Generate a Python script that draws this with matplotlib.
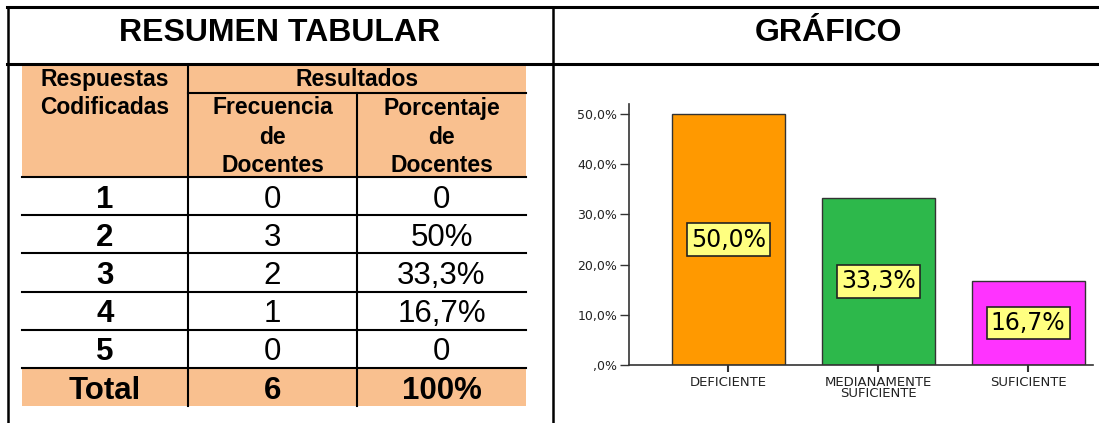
import matplotlib.pyplot as plt
from matplotlib.patches import Rectangle

# ---- data ----
codigos = ["1", "2", "3", "4", "5"]
frecuencias = [0, 3, 2, 1, 0]
porcentajes_tabla = ["0", "50%", "33,3%", "16,7%", "0"]
total_frecuencia = "6"
total_porcentaje = "100%"

categorias = ["DEFICIENTE", "MEDIANAMENTE\nSUFICIENTE", "SUFICIENTE"]
porcentajes = [50.0, 33.3, 16.7]
etiquetas_barras = ["50,0%", "33,3%", "16,7%"]
yticks = [0, 10, 20, 30, 40, 50]
ytick_labels = [",0%", "10,0%", "20,0%", "30,0%", "40,0%", "50,0%"]

colores = ["#FF9900", "#2DB84B", "#FF33FF"]
naranja = "#F9C08F"
amarillo = "#FFFF80"

W, H = 1099, 423
fig = plt.figure(figsize=(W / 100, H / 100), dpi=100)

# ---- frame + table drawn in pixel space ----
tb = fig.add_axes([0, 0, 1, 1])
tb.set_xlim(0, W)
tb.set_ylim(H, 0)
tb.axis("off")

arial = "Liberation Sans"

# outer frame
tb.plot([7, W], [7.5, 7.5], color="black", lw=2.2)
tb.plot([7, W], [64, 64], color="black", lw=2.2)
tb.plot([7.5, 7.5], [7, H], color="black", lw=1.8)
tb.plot([552.5, 552.5], [7, H], color="black", lw=1.8)

tb.text(280, 41, "RESUMEN TABULAR", family=arial, fontsize=23, fontweight="bold",
        ha="center", va="baseline")
tb.text(829, 41, "GRÁFICO", family=arial, fontsize=23, fontweight="bold",
        ha="center", va="baseline")

x0, x1, x2, x3 = 22, 188, 357, 526
head_top, head_bot = 66, 177
row_h = 38.2

# orange backgrounds
tb.add_patch(Rectangle((x0, head_top), x3 - x0, head_bot - head_top,
                       facecolor=naranja, edgecolor="none"))
n = len(codigos)
tot_top = head_bot + n * row_h
tb.add_patch(Rectangle((x0, tot_top), x3 - x0, row_h,
                       facecolor=naranja, edgecolor="none"))

# table lines
lw_t = 1.5
tb.plot([x1, x3], [93, 93], color="black", lw=lw_t)
for i in range(n + 1):
    y = head_bot + i * row_h
    tb.plot([x0, x3], [y, y], color="black", lw=lw_t)
tb.plot([x1, x1], [head_top, tot_top + row_h], color="black", lw=lw_t)
tb.plot([x2, x2], [93, tot_top + row_h], color="black", lw=lw_t)

# header texts
hk = dict(family=arial, fontsize=16.5, fontweight="bold", ha="center", va="baseline")
c1, c2, c3 = (x0 + x1) / 2, (x1 + x2) / 2, (x2 + x3) / 2
tb.text(c1, 86, "Respuestas", **hk)
tb.text(c1, 114.5, "Codificadas", **hk)
tb.text((x1 + x3) / 2, 86, "Resultados", **hk)
for y, (a, b) in zip([114.5, 143.5, 172], [("Frecuencia", "Porcentaje"),
                                          ("de", "de"),
                                          ("Docentes", "Docentes")]):
    tb.text(c2, y, a, **hk)
    tb.text(c3, y, b, **hk)

# body rows
fs = 22.5
for i, (cod, fr, pc) in enumerate(zip(codigos, frecuencias, porcentajes_tabla)):
    yb = head_bot + i * row_h + row_h / 2 + 11.5
    tb.text(c1, yb, cod, family=arial, fontsize=fs, fontweight="bold", ha="center", va="baseline")
    tb.text(c2, yb, str(fr), family=arial, fontsize=fs, ha="center", va="baseline")
    tb.text(c3, yb, pc, family=arial, fontsize=fs, ha="center", va="baseline")
yb = tot_top + row_h / 2 + 11.5
tb.text(c1, yb, "Total", family=arial, fontsize=fs, fontweight="bold", ha="center", va="baseline")
tb.text(c2, yb, total_frecuencia, family=arial, fontsize=fs, fontweight="bold", ha="center", va="baseline")
tb.text(c3, yb, total_porcentaje, family=arial, fontsize=fs, fontweight="bold", ha="center", va="baseline")

# ---- bar chart ----
ax = fig.add_axes([629 / W, (H - 365) / H, (1093 - 629) / W, (365 - 104) / H])
xs = list(range(len(categorias)))
bars = ax.bar(xs, porcentajes, width=0.753, color=colores, edgecolor="#333333", linewidth=1.0)
ax.set_xlim(-0.663, 2.433)
ax.set_ylim(0, 52)
ax.set_yticks(yticks)
ax.set_yticklabels(ytick_labels, family="DejaVu Sans", fontsize=9, color="#222222")
ax.set_xticks(xs)
ax.set_xticklabels(categorias, family="DejaVu Sans", fontsize=9.5, color="#222222",
                   linespacing=0.8, va="top")
ax.tick_params(axis="y", length=6.5, width=1.0, color="#333333", pad=2)
ax.tick_params(axis="x", length=5, width=1.5, color="#333333", pad=3)
for s in ["top", "right"]:
    ax.spines[s].set_visible(False)
for s in ["left", "bottom"]:
    ax.spines[s].set_color("#333333")
    ax.spines[s].set_linewidth(1.2)

for bar, lab in zip(bars, etiquetas_barras):
    ax.text(bar.get_x() + bar.get_width() / 2, bar.get_height() / 2, lab,
            family="DejaVu Sans", fontsize=17, ha="center", va="center",
            bbox=dict(boxstyle="square,pad=0.18", facecolor=amarillo,
                      edgecolor="#222222", linewidth=1.2))

fig.savefig("out.png", dpi=100)
